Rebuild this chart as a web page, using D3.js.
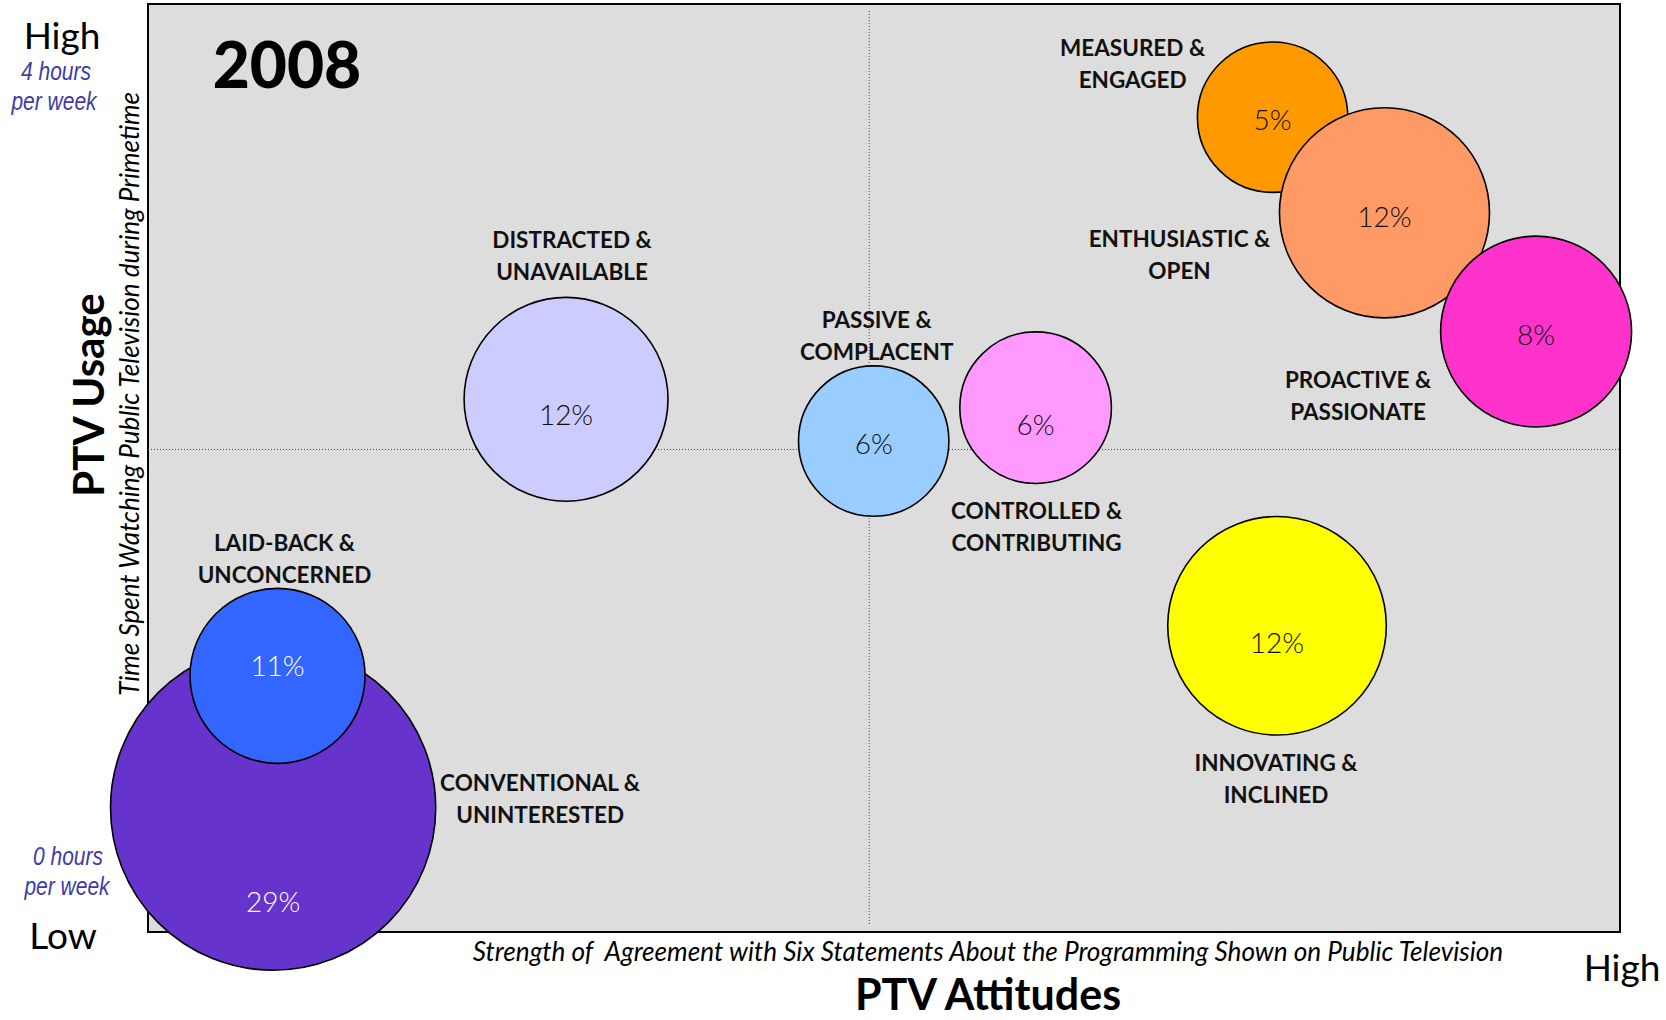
<!DOCTYPE html>
<html>
<head>
<meta charset="utf-8">
<script src="https://cdn.jsdelivr.net/npm/d3@7"></script>
<style>
  html, body { margin: 0; padding: 0; background: #ffffff; }
  svg { display: block; }
</style>
</head>
<body>
<svg id="chart" width="1666" height="1020"></svg>
<script>
// ---------------- DATA ----------------
const year = "2008";
const segmentLine1 = ["CONVENTIONAL &", "LAID-BACK &", "DISTRACTED &", "PASSIVE &", "CONTROLLED &",
                      "MEASURED &", "ENTHUSIASTIC &", "PROACTIVE &", "INNOVATING &"];
const segmentLine2 = ["UNINTERESTED", "UNCONCERNED", "UNAVAILABLE", "COMPLACENT", "CONTRIBUTING",
                      "ENGAGED", "OPEN", "PASSIONATE", "INCLINED"];
// x: PTV attitudes (0-100 scale), y: PTV usage (0-100 scale)
const attitude   = [8.5, 8.8, 28.4, 49.3, 60.3, 76.4, 84.0, 94.3, 76.7];
const usage      = [13.4, 27.6, 57.4, 52.9, 56.5, 87.8, 77.5, 64.7, 33.0];
const sharePct   = [29, 11, 12, 6, 6, 5, 12, 8, 12];
const bubbleSize = [29, 8.4, 11.4, 6.2, 6.3, 6.2, 12.1, 10.0, 13.1];
const midAttitude = 49.0;
const midUsage = 52.0;

// ---------------- STYLE / LAYOUT ----------------
const fills = ["#6633cc", "#3366ff", "#ccccff", "#99ccff", "#ff99ff", "#ff9900", "#ff9966", "#ff33cc", "#ffff00"];
const pctColor = ["#ffffff", "#ffffff", "#111", "#111", "#111", "#111", "#111", "#111", "#111"];
// pixel offsets of the labels from bubble centre
const pctOffset  = [[0, 93], [0, -11], [0, 15], [0, 2], [0, 16], [0, 2], [0, 3], [0, 2], [0, 16]];
const nameOffset = [[267, -9], [7, -117], [6, -144], [3, -106], [1, 119], [-140, -54], [-205, 42], [-178, 64], [-1, 153]];

const frame = {left: 148, top: 4, right: 1620, bottom: 932};

const svg = d3.select("#chart");
const x = d3.scaleLinear().domain([0, 100]).range([frame.left, frame.right]);
const y = d3.scaleLinear().domain([0, 100]).range([frame.bottom, frame.top]);
const r = d3.scaleSqrt().domain([0, 29]).range([0, 162.6]);

const data = attitude.map((a, i) => ({
  a, u: usage[i], pct: sharePct[i], size: bubbleSize[i],
  l1: segmentLine1[i], l2: segmentLine2[i], i
}));

// plot frame
svg.append("rect")
  .attr("x", frame.left).attr("y", frame.top)
  .attr("width", frame.right - frame.left).attr("height", frame.bottom - frame.top)
  .attr("fill", "#dddddd").attr("stroke", "#000").attr("stroke-width", 2);

// quadrant lines
svg.append("line")
  .attr("x1", x(midAttitude)).attr("x2", x(midAttitude))
  .attr("y1", frame.top + 7).attr("y2", frame.bottom - 8)
  .attr("stroke", "#444").attr("stroke-width", 1).attr("stroke-dasharray", "1,2");
svg.append("line")
  .attr("x1", frame.left).attr("x2", frame.right)
  .attr("y1", y(midUsage)).attr("y2", y(midUsage))
  .attr("stroke", "#444").attr("stroke-width", 1).attr("stroke-dasharray", "1,2");

// year
svg.append("text").attr("x", 287).attr("y", 88)
  .attr("text-anchor", "middle")
  .style("font-family", "Lato, 'Open Sans', sans-serif").style("font-weight", 900)
  .style("font-size", "64px").attr("fill", "#000").text(year);

// bubbles
svg.append("g").selectAll("circle").data(data).join("circle")
  .attr("cx", d => x(d.a)).attr("cy", d => y(d.u)).attr("r", d => r(d.size))
  .attr("fill", d => fills[d.i]).attr("stroke", "#000").attr("stroke-width", 1.6);

// percentages
svg.append("g").selectAll("text").data(data).join("text")
  .attr("x", d => x(d.a) + pctOffset[d.i][0])
  .attr("y", d => y(d.u) + pctOffset[d.i][1])
  .attr("text-anchor", "middle").attr("dominant-baseline", "central")
  .style("font-family", "Lato, sans-serif").style("font-weight", 300)
  .style("font-size", "28px").attr("fill", d => pctColor[d.i])
  .text(d => d.pct + "%");

// segment names
const names = svg.append("g").selectAll("text").data(data).join("text")
  .attr("text-anchor", "middle")
  .style("font-family", "Lato, sans-serif").style("font-weight", 700)
  .style("font-size", "22.5px").attr("fill", "#111");
names.append("tspan")
  .attr("x", d => x(d.a) + nameOffset[d.i][0])
  .attr("y", d => y(d.u) + nameOffset[d.i][1] - 16)
  .attr("dominant-baseline", "central")
  .text(d => d.l1);
names.append("tspan")
  .attr("x", d => x(d.a) + nameOffset[d.i][0])
  .attr("y", d => y(d.u) + nameOffset[d.i][1] + 16)
  .attr("dominant-baseline", "central")
  .text(d => d.l2);

// axis annotations
const sideFont = "Lato, sans-serif";
svg.append("text").attr("x", 62).attr("y", 49).attr("text-anchor", "middle")
  .style("font-family", sideFont).style("font-size", "37px").attr("fill", "#000").text("High");
svg.append("text").attr("x", 63).attr("y", 949).attr("text-anchor", "middle")
  .style("font-family", sideFont).style("font-size", "37px").attr("fill", "#000").text("Low");
svg.append("text").attr("x", 1622).attr("y", 981).attr("text-anchor", "middle")
  .style("font-family", sideFont).style("font-size", "37px").attr("fill", "#000").text("High");

const blueFont = "'Liberation Sans Narrow', 'Liberation Sans', sans-serif";
const blue = "#3c3caa";
[["4 hours", 56, 80], ["per week", 54, 110], ["0 hours", 68, 865], ["per week", 67, 895]].forEach(t => {
  svg.append("text").attr("transform", `translate(${t[1]},${t[2]}) scale(0.84,1)`)
    .attr("text-anchor", "middle")
    .style("font-family", blueFont).style("font-style", "italic").style("font-size", "25px")
    .attr("fill", blue).text(t[0]);
});

function fitWidth(sel, w) {
  const len = sel.node().getComputedTextLength();
  const fs = parseFloat(sel.style("font-size"));
  sel.style("font-size", (fs * w / len) + "px");
}

const xSub = svg.append("text").attr("x", 988).attr("y", 961).attr("text-anchor", "middle")
  .attr("xml:space", "preserve").style("white-space", "pre")
  .style("font-family", "Lato, sans-serif").style("font-style", "italic").style("font-size", "22px")
  .attr("fill", "#000")
  .text("Strength of  Agreement with Six Statements About the Programming Shown on Public Television");
fitWidth(xSub, 1031);

svg.append("text").attr("x", 988).attr("y", 1010).attr("text-anchor", "middle")
  .style("font-family", "Lato, sans-serif").style("font-weight", 700).style("font-size", "43px")
  .attr("fill", "#000").text("PTV Attitudes");

svg.append("text").attr("transform", "translate(88,395) rotate(-90)")
  .attr("text-anchor", "middle").attr("dominant-baseline", "central")
  .style("font-family", "Lato, sans-serif").style("font-weight", 700).style("font-size", "42px")
  .attr("fill", "#000").text("PTV Usage");

const ySub = svg.append("text").attr("transform", "translate(129,394) rotate(-90)")
  .attr("text-anchor", "middle").attr("dominant-baseline", "central")
  .style("font-family", "Lato, sans-serif").style("font-style", "italic").style("font-size", "22px")
  .attr("fill", "#000")
  .text("Time Spent Watching Public Television during Primetime");
fitWidth(ySub, 604);
</script>
</body>
</html>
